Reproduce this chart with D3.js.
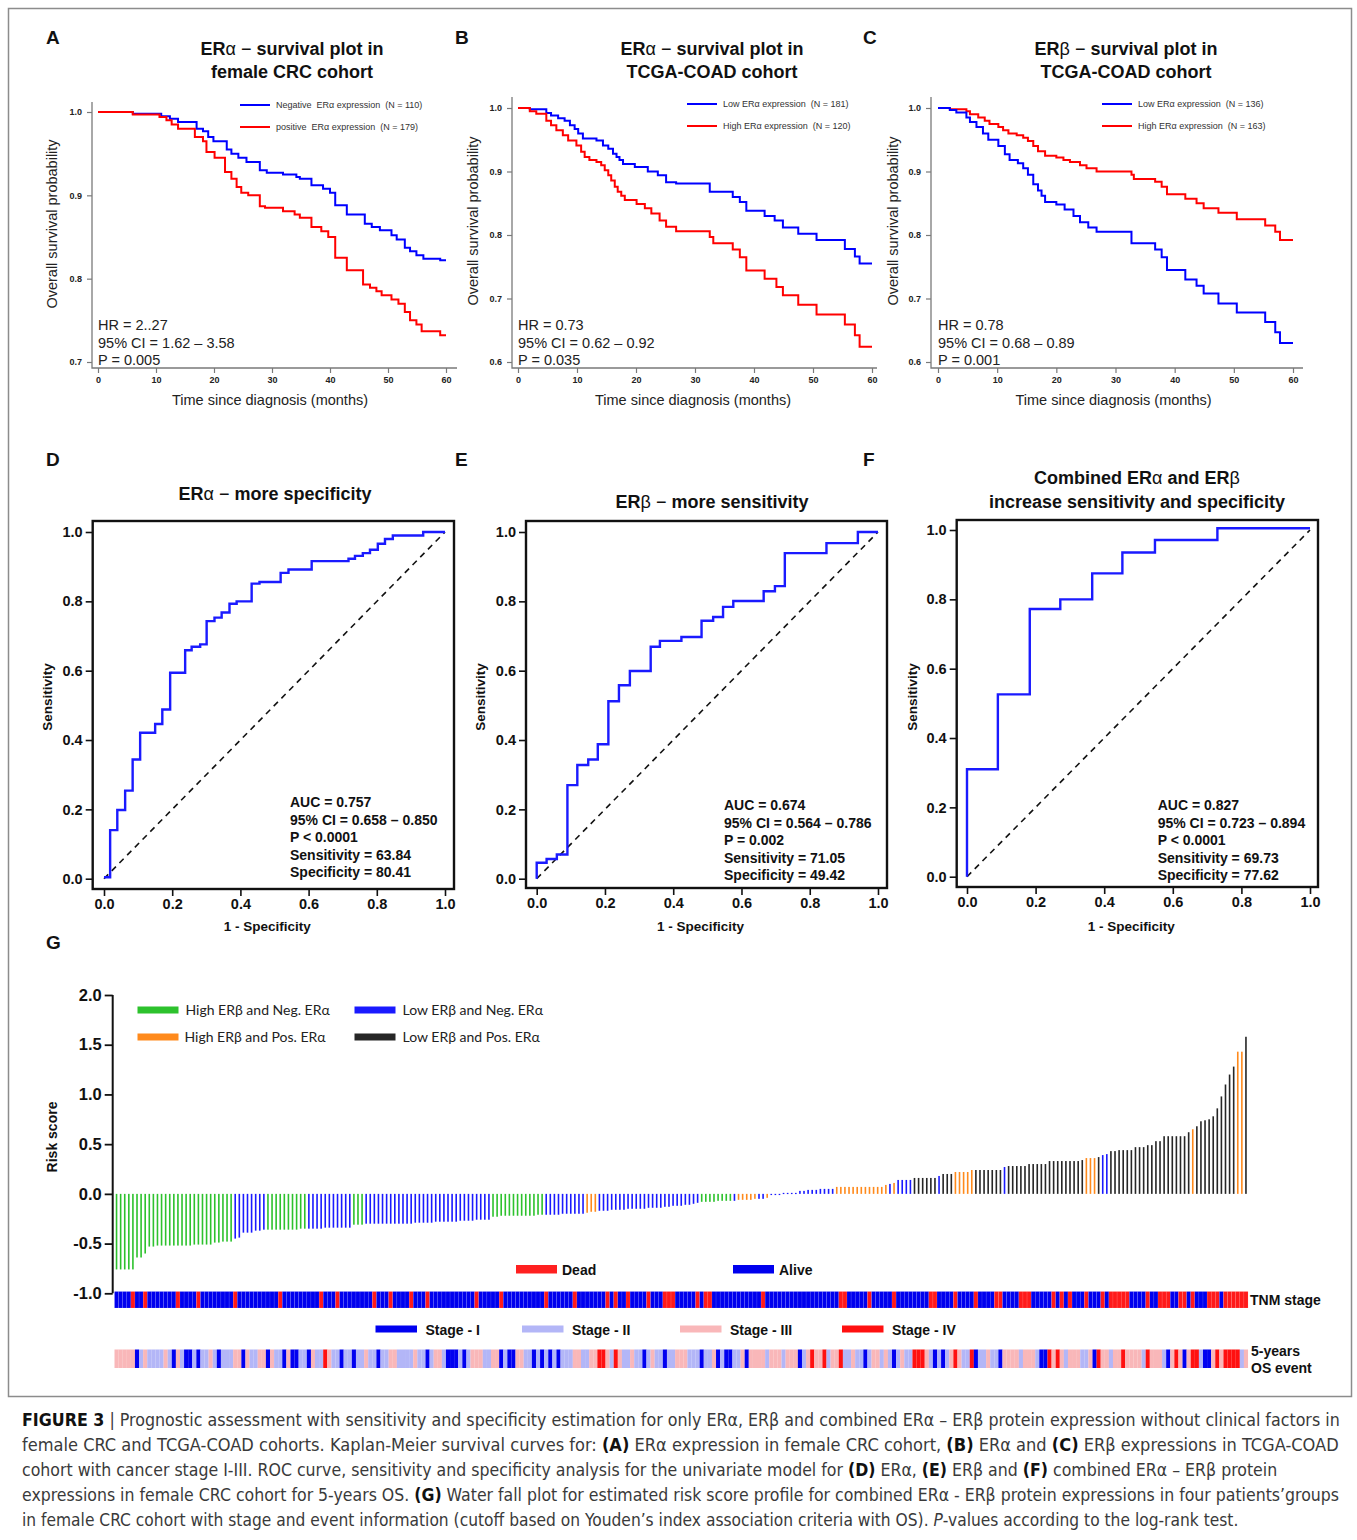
<!DOCTYPE html>
<html>
<head>
<meta charset="utf-8">
<script src="https://cdn.jsdelivr.net/npm/d3@7"></script>
<style>
body{margin:0;background:#fff}
svg{display:block;font-family:"Liberation Sans",Arial,sans-serif}
</style>
</head>
<body>
<div id="chart"></div>
<script>
// ---------- data ----------
const kmTimeTicks = [0,10,20,30,40,50,60];

// A: female CRC cohort, ERa
const kmA_neg = [[0,1],[6.0,0.998],[10.9,0.995],[12.4,0.992],[13.8,0.988],[17.0,0.98],[18.1,0.977],[19.0,0.97],[19.9,0.965],[22.2,0.955],[23.0,0.95],[24.2,0.945],[25.6,0.94],[27.9,0.93],[29.1,0.927],[31.9,0.925],[34.2,0.922],[34.8,0.92],[36.8,0.912],[38.8,0.908],[40.0,0.903],[40.9,0.888],[42.9,0.877],[46.0,0.866],[47.2,0.862],[48.6,0.858],[50.6,0.852],[51.5,0.847],[52.9,0.837],[53.8,0.833],[54.9,0.828],[56.1,0.824],[59.0,0.822],[60,0.822]];
const kmA_pos = [[0,1],[6.0,0.997],[10.6,0.994],[11.8,0.99],[12.7,0.985],[13.8,0.98],[16.7,0.97],[18.1,0.965],[18.7,0.952],[20.1,0.945],[21.9,0.928],[23.0,0.92],[23.9,0.91],[24.7,0.903],[25.9,0.9],[27.9,0.887],[28.8,0.885],[31.9,0.881],[33.9,0.877],[34.8,0.873],[36.8,0.862],[38.5,0.857],[39.7,0.85],[40.9,0.825],[42.9,0.81],[45.7,0.793],[46.9,0.789],[48.0,0.785],[48.9,0.78],[50.6,0.775],[51.8,0.77],[52.9,0.76],[53.8,0.75],[54.9,0.745],[55.8,0.737],[59.0,0.732],[60,0.732]];

// B: TCGA-COAD, ERa
const kmB_low = [[0,1],[2.0,0.998],[4.8,0.992],[5.6,0.988],[6.8,0.984],[7.9,0.98],[8.8,0.973],[9.6,0.967],[10.2,0.96],[11.0,0.952],[13.3,0.949],[14.4,0.941],[15.3,0.936],[16.1,0.928],[16.7,0.923],[17.2,0.918],[17.8,0.912],[19.8,0.907],[22.0,0.9],[23.7,0.894],[25.1,0.883],[26.8,0.881],[32.5,0.868],[36.4,0.86],[37.6,0.852],[38.7,0.838],[41.8,0.83],[43.5,0.823],[44.9,0.812],[47.5,0.802],[50.6,0.792],[55.4,0.778],[57.1,0.766],[57.9,0.755],[60,0.755]];
const kmB_high = [[0,1],[2.0,0.995],[3.1,0.991],[4.8,0.98],[5.6,0.973],[6.5,0.965],[7.6,0.957],[8.5,0.949],[9.9,0.941],[10.7,0.931],[11.3,0.923],[12.1,0.918],[13.3,0.915],[14.1,0.91],[14.7,0.902],[15.3,0.894],[15.8,0.886],[16.4,0.876],[16.9,0.868],[17.5,0.862],[18.1,0.855],[20.1,0.849],[21.5,0.842],[22.6,0.834],[24.0,0.823],[25.1,0.813],[26.8,0.806],[32.5,0.797],[33.1,0.787],[36.4,0.777],[37.6,0.765],[38.7,0.744],[41.8,0.731],[43.8,0.718],[44.9,0.705],[47.5,0.69],[50.6,0.675],[55.4,0.659],[57.1,0.642],[57.9,0.624],[60,0.624]];

// C: TCGA-COAD, ERb
const kmC_low = [[0,1],[2.0,0.997],[3.1,0.993],[4.8,0.985],[5.4,0.978],[6.5,0.97],[7.6,0.96],[8.5,0.95],[10.2,0.94],[11.3,0.927],[12.1,0.918],[13.5,0.913],[14.4,0.905],[15.2,0.895],[16.1,0.88],[16.9,0.87],[17.5,0.862],[18.1,0.852],[20.0,0.848],[21.4,0.84],[22.9,0.83],[24.0,0.82],[25.4,0.812],[26.8,0.805],[32.7,0.787],[36.7,0.777],[37.8,0.765],[38.7,0.745],[41.8,0.73],[43.7,0.72],[44.9,0.708],[47.4,0.692],[50.5,0.678],[55.3,0.663],[57.0,0.647],[57.8,0.63],[60,0.63]];
const kmC_high = [[0,1],[2.0,0.998],[4.8,0.995],[5.4,0.99],[6.8,0.985],[7.9,0.98],[8.7,0.975],[10.2,0.97],[11.0,0.965],[11.9,0.96],[13.3,0.957],[14.4,0.953],[15.2,0.948],[16.1,0.94],[16.9,0.932],[18.1,0.925],[20.0,0.922],[21.2,0.918],[22.3,0.915],[24.0,0.91],[25.1,0.905],[26.8,0.9],[32.7,0.895],[33.1,0.888],[36.7,0.884],[37.8,0.876],[38.7,0.864],[41.8,0.857],[43.7,0.85],[44.9,0.842],[47.4,0.835],[50.5,0.825],[55.3,0.815],[57.0,0.805],[57.8,0.792],[60,0.792]];

// ROC curves: [1 - specificity, sensitivity]
const rocTicks = [0,0.2,0.4,0.6,0.8,1.0];
const rocD = [[0,0.004],[0.018,0.14],[0.039,0.198],[0.062,0.254],[0.084,0.344],[0.106,0.421],[0.15,0.446],[0.171,0.488],[0.194,0.594],[0.238,0.659],[0.257,0.669],[0.282,0.676],[0.301,0.743],[0.324,0.753],[0.345,0.768],[0.368,0.793],[0.389,0.8],[0.433,0.851],[0.456,0.856],[0.518,0.882],[0.541,0.892],[0.609,0.916],[0.717,0.923],[0.736,0.931],[0.759,0.939],[0.78,0.949],[0.803,0.966],[0.824,0.98],[0.847,0.99],[0.936,1.0],[1.0,1.0]];
const rocE = [[0,0],[0,0.046],[0.029,0.057],[0.059,0.07],[0.09,0.27],[0.119,0.328],[0.151,0.344],[0.179,0.388],[0.21,0.512],[0.241,0.558],[0.273,0.599],[0.334,0.669],[0.361,0.686],[0.424,0.697],[0.483,0.744],[0.517,0.755],[0.546,0.784],[0.576,0.801],[0.665,0.829],[0.698,0.844],[0.727,0.939],[0.849,0.968],[0.941,1.0],[1.0,1.0]];
const rocF = [[0,0],[0,0.31],[0.09,0.526],[0.183,0.772],[0.272,0.8],[0.365,0.875],[0.453,0.935],[0.548,0.971],[0.73,1.005],[1.0,1.005]];
const statsD = ["AUC = 0.757","95% CI = 0.658 \u2013 0.850","P < 0.0001","Sensitivity = 63.84","Specificity = 80.41"];
const statsE = ["AUC = 0.674","95% CI = 0.564 \u2013 0.786","P = 0.002","Sensitivity = 71.05","Specificity = 49.42"];
const statsF = ["AUC = 0.827","95% CI = 0.723 \u2013 0.894","P < 0.0001","Sensitivity = 69.73","Specificity = 77.62"];

// G: waterfall risk scores (sorted) and group of each patient
const riskScores = [
 -0.76,-0.76,-0.76,-0.76,-0.76,-0.64,-0.64,-0.6,
 -0.53,-0.53,-0.52,-0.52,-0.52,-0.52,-0.52,-0.52,-0.52,-0.52,-0.52,-0.51,-0.51,-0.51,-0.51,-0.51,
 -0.49,-0.49,-0.48,-0.48,-0.48,
 -0.45,-0.44,-0.39,-0.39,-0.39,-0.37,-0.37,-0.36,
 -0.36,-0.36,-0.36,-0.36,-0.36,-0.36,-0.36,-0.36,-0.35,-0.35,
 -0.35,-0.35,-0.35,-0.35,-0.34,-0.34,-0.34,-0.34,-0.34,-0.34,-0.34,
 -0.31,-0.31,-0.31,
 -0.30,-0.30,-0.30,-0.30,-0.30,-0.30,-0.30,-0.30,-0.30,-0.30,-0.30,-0.30,-0.29,-0.29,
 -0.29,-0.29,-0.29,-0.28,-0.28,-0.28,-0.28,-0.28,-0.28,-0.27,-0.27,-0.27,-0.27,-0.26,-0.26,-0.26,-0.26,
 -0.23,-0.23,-0.22,-0.22,-0.22,-0.22,-0.22,-0.22,-0.22,-0.22,-0.22,-0.21,-0.21,
 -0.21,-0.21,-0.21,-0.21,-0.2,-0.2,-0.2,-0.2,-0.2,-0.2,
 -0.19,-0.18,-0.18,
 -0.17,-0.17,-0.17,-0.16,-0.16,-0.16,-0.16,-0.15,-0.15,-0.15,-0.15,-0.15,-0.14,-0.14,-0.14,-0.14,-0.13,-0.13,-0.12,-0.12,-0.12,-0.11,-0.11,-0.10,
 -0.09,
 -0.08,-0.08,-0.08,-0.08,-0.07,-0.07,-0.07,-0.07,
 -0.07,
 -0.06,-0.06,-0.06,-0.06,-0.05,
 -0.05,-0.05,
 -0.04,
 -0.01,-0.005,-0.005,
 0.01,0.01,0.01,0.01,
 0.03,0.03,0.04,0.04,0.04,
 0.05,0.05,0.05,0.05,
 0.07,0.07,0.07,0.07,0.07,0.07,0.07,0.07,0.07,0.07,0.07,0.07,
 0.09,0.10,0.11,
 0.14,0.14,0.14,0.14,
 0.16,0.16,0.16,0.16,0.16,0.16,
 0.18,
 0.2,0.2,0.2,
 0.22,0.22,0.22,0.22,0.24,
 0.24,0.24,0.24,0.24,0.24,0.24,0.24,
 0.27,
 0.28,0.28,0.28,0.28,0.28,
 0.3,0.3,0.3,0.3,0.3,
 0.33,0.33,0.33,0.33,0.33,0.33,0.33,0.33,
 0.34,
 0.36,0.36,0.36,
 0.37,
 0.39,0.4,
 0.43,0.43,
 0.44,0.44,0.44,0.44,
 0.47,0.47,0.47,
 0.49,0.49,
 0.53,0.53,
 0.58,0.58,0.58,0.58,0.58,0.58,
 0.62,
 0.65,
 0.68,0.73,0.74,0.75,0.78,
 0.86,0.98,1.1,1.2,1.28,
 1.43,1.43,
 1.58
];
const riskGroups = [
 "g","g","g","g","g","g","g","g",
 "g","g","g","g","g","g","g","g","g","g","g","g","g","g","g","g",
 "g","g","g","g","g",
 "b","b","b","b","b","b","b","b",
 "g","g","g","g","g","g","g","g","g","g",
 "b","b","b","b","b","b","b","b","b","b","b",
 "g","g","g",
 "b","b","b","b","b","b","b","b","b","b","b","b","b","b",
 "b","b","b","b","b","b","b","b","b","b","b","b","b","b","b","b","b",
 "g","g","g","g","g","g","g","g","g","g","g","g","g",
 "b","b","b","b","b","b","b","b","b","b",
 "o","o","o",
 "b","b","b","b","b","b","b","b","b","b","b","b","b","b","b","b","b","b","b","b","b","b","b","b",
 "b",
 "g","g","g","g","g","g","g","g",
 "b",
 "o","o","o","o","o",
 "b","b",
 "o",
 "b","b","b",
 "b","b","b","b",
 "b","b","b","b","b",
 "b","b","b","b",
 "o","o","o","o","o","o","o","o","o","o","o","o",
 "o","b","o",
 "b","b","b","b",
 "k","k","k","k","k","k",
 "b",
 "k","k","k",
 "o","o","o","o","o",
 "k","k","k","k","k","k","k",
 "b",
 "k","k","k","k","k",
 "k","k","k","k","k",
 "k","k","k","k","k","k","k","k",
 "k",
 "o","o","o",
 "k",
 "b","b",
 "k","k",
 "k","k","k","k",
 "k","k","k",
 "k","k",
 "k","k",
 "k","k","k","k","k","k",
 "k",
 "o",
 "k","k","k","k","k",
 "k","k","k","k","k",
 "o","o",
 "k"
];
// positions (patient order) with a 5-year event (dead); all others alive
const deadPatients = [4,7,15,20,29,40,50,54,63,67,72,76,88,94,105,112,120,122,125,130,134,135,136,142,144,145,158,177,178,184,190,199,200,205,210,215,216,221,222,223,229,231,233,237,241,243,244,245,246,247,252,255,256,257,260,261,263,267,268,269,271,272,273,274,275,276];
// TNM stage per patient (1..4)
const tnmStage = [
 3,3,3,3,3,1,2,3,2,2, 2,2,3,2,1,3,2,1,1,2, 1,2,2,3,2,1,2,2,2,3, 3,1,3,2,2,3,3,1,3,2,
 2,1,3,1,1,2,2,1,3,2, 2,4,3,2,2,1,2,2,1,2, 2,3,2,2,1,2,2,3,3,2, 2,2,2,3,2,2,1,2,3,3,
 2,1,1,1,2,1,2,3,3,3, 2,2,3,3,1,2,1,1,3,3, 2,2,1,2,1,2,1,2,1,2, 2,2,3,3,2,2,3,3,4,4,
 3,2,4,3,2,2,3,2,2,1, 2,3,2,2,1,2,2,3,3,3, 2,2,2,1,2,2,3,1,2,1, 1,2,2,3,1,3,3,3,3,2,
 3,3,3,2,3,3,3,1,2,3, 4,3,3,4,2,3,3,4,2,2, 3,2,2,1,2,3,3,2,3,2, 1,2,3,2,2,4,4,4,3,2,
 1,2,1,2,3,4,3,2,2,4, 1,2,2,3,2,2,1,3,3,3, 3,2,3,3,3,2,1,1,4,3, 4,3,2,3,3,3,2,2,3,1,
 4,3,3,2,3,3,4,3,3,3, 3,2,4,3,3,3,2,1,3,4, 3,1,3,4,4,2,1,1,3,4, 3,4,4,4,4,2,3
];
const groupLegend = [["g","High ER\u03b2 and Neg. ER\u03b1"],["b","Low ER\u03b2 and Neg. ER\u03b1"],["o","High ER\u03b2 and Pos. ER\u03b1"],["k","Low ER\u03b2 and Pos. ER\u03b1"]];
const riskTicks = [-1.0,-0.5,0.0,0.5,1.0,1.5,2.0];
const stageLabels = ["Stage - I","Stage - II","Stage - III","Stage - IV"];

// ---------- styling ----------
const groupColor = {g:"#2dc22d", b:"#1a1aff", o:"#ff8a1c", k:"#262626"};
const stageColor = {1:"#0000f0", 2:"#b3b6f7", 3:"#f9b7b9", 4:"#ff1010"};
const FONT = "Liberation Sans, Arial, sans-serif";
const fmt1 = v => d3.format(".1f")(v).replace("\u2212","-");

const svg = d3.select("#chart").append("svg").attr("width",1357).attr("height",1540);
svg.append("rect").attr("width",1357).attr("height",1540).attr("fill","#fff");
svg.append("rect").attr("x",8.5).attr("y",8.5).attr("width",1343).attr("height",1388)
  .attr("fill","none").attr("stroke","#8c8c8c").attr("stroke-width",1.5);

function rich(x, y, parts, size, anchor){
  const t = svg.append("text").attr("x",x).attr("y",y)
    .attr("text-anchor",anchor || "middle").style("font-size",size+"px").attr("fill","#111");
  parts.forEach(p => t.append("tspan").text(p[0]).style("font-weight", p[1] ? "bold" : "normal"));
  return t;
}

// panel letters
[["A",46,44],["B",455,44],["C",863,44],["D",46,466],["E",455,466],["F",863,466],["G",46,949]].forEach(d => {
  svg.append("text").attr("x",d[1]).attr("y",d[2]).text(d[0])
    .style("font-size","19px").style("font-weight","bold").attr("fill","#111");
});

// ---------- Kaplan-Meier panels ----------
function kmPanel(p){
  const x = d3.scaleLinear().domain([0,60]).range([p.x0, p.x60]);
  const y = d3.scaleLinear().domain([p.yMin,1]).range([p.yMinPx, p.y1Px]);
  const g = svg.append("g");
  g.append("path").attr("d",`M${p.left},${p.top}V${p.bottom}H${p.right}`)
    .attr("fill","none").attr("stroke","#7a7a7a").attr("stroke-width",1.3);
  g.append("g").attr("transform",`translate(0,${p.bottom})`)
    .call(d3.axisBottom(x).tickValues(kmTimeTicks).tickSize(5).tickPadding(4))
    .call(a => {
      a.attr("font-family",FONT);
      a.select(".domain").remove();
      a.selectAll("line").attr("stroke","#7a7a7a").attr("stroke-width",1.2);
      a.selectAll("text").style("font-size","9px").style("font-weight","bold").attr("fill","#222");
    });
  g.append("g").attr("transform",`translate(${p.left},0)`)
    .call(d3.axisLeft(y).tickValues(p.yTicks).tickFormat(d3.format(".1f")).tickSize(5).tickPadding(5))
    .call(a => {
      a.attr("font-family",FONT);
      a.select(".domain").remove();
      a.selectAll("line").attr("stroke","#7a7a7a").attr("stroke-width",1.2);
      a.selectAll("text").style("font-size","9px").style("font-weight","bold").attr("fill","#222");
    });
  const line = d3.line().x(d => x(d[0])).y(d => y(d[1])).curve(d3.curveStepAfter);
  p.curves.forEach(c => {
    g.append("path").datum(c.data).attr("d",line).attr("fill","none")
      .attr("stroke",c.color).attr("stroke-width",2);
  });
  // legend
  p.legend.forEach((l,i) => {
    const ly = p.legY + i*22;
    g.append("line").attr("x1",p.legX).attr("x2",p.legX+30).attr("y1",ly).attr("y2",ly)
      .attr("stroke",l[0]).attr("stroke-width",2);
    g.append("text").attr("x",p.legX+36).attr("y",ly+3).text(l[1])
      .style("font-size","9px").attr("fill","#333").style("white-space","pre").attr("xml:space","preserve");
  });
  // stats
  p.stats.forEach((s,i) => {
    g.append("text").attr("x",p.x0).attr("y",330+i*17.5).text(s)
      .style("font-size","14.5px").attr("fill","#222");
  });
  // axis titles
  g.append("text").attr("x",(p.x0+p.x60)/2 - 2).attr("y",405).attr("text-anchor","middle")
    .text("Time since diagnosis (months)").style("font-size","14.5px").attr("fill","#222");
  g.append("text").attr("transform",`translate(${p.ylabX},${p.ylabY}) rotate(-90)`).attr("text-anchor","middle")
    .text("Overall survival probability").style("font-size","14.5px").attr("fill","#222");
  // title
  rich(p.tx, 54.5, p.title1, 18);
  rich(p.tx, 77.5, p.title2, 18);
}

kmPanel({left:92,right:457,top:102,bottom:368,x0:98,x60:446,yMin:0.7,yMinPx:362,y1Px:112,
  yTicks:[0.7,0.8,0.9,1.0], ylabX:57, ylabY:224, tx:292,
  title1:[["ER",1],["\u03b1 \u2212 ",0],["survival  plot  in",1]], title2:[["female  CRC  cohort",1]],
  curves:[{data:kmA_neg,color:"#0000ff"},{data:kmA_pos,color:"#ff0000"}],
  legX:240, legY:105,
  legend:[["#0000ff","Negative  ER\u03b1 expression  (N = 110)"],["#ff0000","positive  ER\u03b1 expression  (N = 179)"]],
  stats:["HR = 2..27","95% CI = 1.62 \u2013 3.58","P = 0.005"]});

kmPanel({left:512,right:877,top:97,bottom:368,x0:518,x60:872,yMin:0.6,yMinPx:362,y1Px:108,
  yTicks:[0.6,0.7,0.8,0.9,1.0], ylabX:478, ylabY:221, tx:712,
  title1:[["ER",1],["\u03b1 \u2212 ",0],["survival  plot  in",1]], title2:[["TCGA-COAD  cohort",1]],
  curves:[{data:kmB_low,color:"#0000ff"},{data:kmB_high,color:"#ff0000"}],
  legX:687, legY:104,
  legend:[["#0000ff","Low ER\u03b1 expression  (N = 181)"],["#ff0000","High ER\u03b1 expression  (N = 120)"]],
  stats:["HR = 0.73","95% CI = 0.62 \u2013 0.92","P = 0.035"]});

kmPanel({left:931,right:1303,top:97,bottom:368,x0:938,x60:1293,yMin:0.6,yMinPx:362,y1Px:108,
  yTicks:[0.6,0.7,0.8,0.9,1.0], ylabX:898, ylabY:221, tx:1126,
  title1:[["ER",1],["\u03b2 \u2212 ",0],["survival  plot  in",1]], title2:[["TCGA-COAD  cohort",1]],
  curves:[{data:kmC_high,color:"#ff0000"},{data:kmC_low,color:"#0000ff"}],
  legX:1102, legY:104,
  legend:[["#0000ff","Low ER\u03b1 expression  (N = 136)"],["#ff0000","High ER\u03b1 expression  (N = 163)"]],
  stats:["HR = 0.78","95% CI = 0.68 \u2013 0.89","P = 0.001"]});

// ---------- ROC panels ----------
function rocPanel(p){
  const x = d3.scaleLinear().domain([0,1]).range([p.x0, p.x1]);
  const y = d3.scaleLinear().domain([0,1]).range([p.y0, p.y1]);
  const g = svg.append("g");
  const styleAxis = a => {
    a.attr("font-family",FONT);
    a.select(".domain").remove();
    a.selectAll("line").attr("stroke","#111").attr("stroke-width",1.6);
    a.selectAll("text").style("font-size","14.5px").style("font-weight","bold").attr("fill","#111");
  };
  g.append("g").attr("transform",`translate(0,${p.b})`)
    .call(d3.axisBottom(x).tickValues(rocTicks).tickFormat(d3.format(".1f")).tickSize(7).tickPadding(3)).call(styleAxis);
  g.append("g").attr("transform",`translate(${p.l},0)`)
    .call(d3.axisLeft(y).tickValues(rocTicks).tickFormat(d3.format(".1f")).tickSize(7).tickPadding(3)).call(styleAxis);
  g.append("rect").attr("x",p.l).attr("y",p.t).attr("width",p.r-p.l).attr("height",p.b-p.t)
    .attr("fill","none").attr("stroke","#111").attr("stroke-width",2.4);
  g.append("line").attr("x1",x(0)).attr("y1",y(0)).attr("x2",x(1)).attr("y2",y(1))
    .attr("stroke","#111").attr("stroke-width",1.6).attr("stroke-dasharray","6,5");
  const line = d3.line().x(d => x(d[0])).y(d => y(d[1])).curve(d3.curveStepAfter);
  g.append("path").datum(p.data).attr("d",line).attr("fill","none")
    .attr("stroke","#1a1aff").attr("stroke-width",2.4);
  p.stats.forEach((s,i) => {
    g.append("text").attr("x",p.sx).attr("y",p.sy+i*17.6).text(s)
      .style("font-size","14px").style("font-weight","bold").attr("fill","#111");
  });
  g.append("text").attr("x",(p.l+p.r)/2 - 6).attr("y",931).attr("text-anchor","middle")
    .text("1 - Specificity").style("font-size","13.5px").style("font-weight","bold").attr("fill","#111");
  g.append("text").attr("transform",`translate(${p.ylabX},697) rotate(-90)`).attr("text-anchor","middle")
    .text("Sensitivity").style("font-size","13.5px").style("font-weight","bold").attr("fill","#111");
  p.titles.forEach(tl => rich(p.tx, tl[0], tl[1], 18));
}

rocPanel({l:92.7,t:521,r:454,b:889,x0:104,x1:445,y0:878.7,y1:532,data:rocD,stats:statsD,sx:290,sy:807,
  ylabX:52, tx:275, titles:[[500,[["ER",1],["\u03b1 \u2212 ",0],["more specificity",1]]]]});
rocPanel({l:526,t:521,r:887,b:888,x0:536.7,x1:878,y0:878.7,y1:532,data:rocE,stats:statsE,sx:724,sy:810,
  ylabX:485, tx:712, titles:[[507.5,[["ER",1],["\u03b2 \u2212 ",0],["more sensitivity",1]]]]});
rocPanel({l:956.7,t:520,r:1318,b:887,x0:967,x1:1310,y0:876.7,y1:530,data:rocF,stats:statsF,sx:1157.7,sy:810,
  ylabX:917, tx:1137, titles:[[484,[["Combined ER",1],["\u03b1",0],[" and ER",1],["\u03b2",0]]],[507.5,[["increase sensitivity and specificity",1]]]]});

// ---------- waterfall panel ----------
const wfX = d3.scaleBand().domain(d3.range(riskScores.length)).range([114.5, 1248]);
const wfY = d3.scaleLinear().domain([-1,2]).range([1293.3, 995]);
const gW = svg.append("g");
gW.append("g").attr("transform","translate(112.7,0)")
  .call(d3.axisLeft(wfY).tickValues(riskTicks).tickFormat(fmt1).tickSize(8).tickPadding(3))
  .call(a => {
    a.attr("font-family",FONT);
    a.select(".domain").attr("stroke","#111").attr("stroke-width",2).attr("d","M0,995V1293.3");
    a.selectAll(".tick line").attr("stroke","#111").attr("stroke-width",1.8);
    a.selectAll("text").style("font-size","16.5px").style("font-weight","bold").attr("fill","#111");
  });
gW.append("text").attr("transform","translate(57,1137) rotate(-90)").attr("text-anchor","middle")
  .text("Risk score").style("font-size","14px").style("font-weight","bold").attr("fill","#111");

const bw = wfX.bandwidth();
gW.selectAll("rect.bar").data(riskScores).enter().append("rect").attr("class","bar")
  .attr("x",(d,i) => wfX(i) + bw/2 - 0.8).attr("width",1.6)
  .attr("y",d => Math.min(wfY(d), wfY(0)))
  .attr("height",d => Math.max(1.2, Math.abs(wfY(d) - wfY(0))))
  .attr("fill",(d,i) => groupColor[riskGroups[i]]);

// group legend
groupLegend.forEach((l,i) => {
  const lx = i % 2 === 0 ? 137.5 : 354.5;
  const ly = i < 2 ? 1010 : 1037;
  gW.append("rect").attr("x",lx).attr("y",ly-3.5).attr("width",41).attr("height",7).attr("fill",groupColor[l[0]]);
  gW.append("text").attr("x",lx+(i===2?47:48)).attr("y",ly+5).text(l[1])
    .style("font-family","Lato, 'Open Sans', sans-serif").style("font-size","14px").attr("fill","#222");
});

// event strip
const deadSet = new Set(deadPatients);
gW.selectAll("rect.ev").data(riskScores).enter().append("rect").attr("class","ev")
  .attr("x",(d,i) => wfX(i)).attr("width",bw + 0.05).attr("y",1291.5).attr("height",16.5)
  .attr("fill",(d,i) => deadSet.has(i) ? "#ff1a1a" : "#0000ee")
  .attr("stroke","rgba(255,255,255,0.28)").attr("stroke-width",0.4);
// stage strip
gW.selectAll("rect.st").data(tnmStage.slice(0, riskScores.length)).enter().append("rect").attr("class","st")
  .attr("x",(d,i) => wfX(i)).attr("width",bw + 0.05).attr("y",1349.5).attr("height",18.5)
  .attr("fill",d => stageColor[d]);

// event legend
[["#ff2020","Dead",516],["#0000ee","Alive",733]].forEach(l => {
  gW.append("rect").attr("x",l[2]).attr("y",1265).attr("width",41).attr("height",8.5).attr("fill",l[0]);
  gW.append("text").attr("x",l[2]+46).attr("y",1274.5).text(l[1])
    .style("font-size","14px").style("font-weight","bold").attr("fill","#111");
});
// stage legend
[375.5,522,680,842].forEach((lx,i) => {
  gW.append("rect").attr("x",lx).attr("y",1325.5).attr("width",41.5).attr("height",7).attr("fill",stageColor[i+1]);
  gW.append("text").attr("x",lx+50).attr("y",1334.5).text(stageLabels[i])
    .style("font-size","14px").style("font-weight","bold").attr("fill","#111");
});
gW.append("text").attr("x",1250).attr("y",1304.5).text("TNM stage")
  .style("font-size","14px").style("font-weight","bold").attr("fill","#111");
gW.append("text").attr("x",1251).attr("y",1356).text("5-years")
  .style("font-size","14px").style("font-weight","bold").attr("fill","#111");
gW.append("text").attr("x",1251).attr("y",1373).text("OS event")
  .style("font-size","14px").style("font-weight","bold").attr("fill","#111");

// ---------- caption ----------
const captionLines = [
 [["FIGURE 3","b"],[" | Prognostic assessment with sensitivity and specificity estimation for only ER\u03b1, ER\u03b2 and combined ER\u03b1 \u2013 ER\u03b2 protein expression without clinical factors in",""]],
 [["female CRC and TCGA-COAD cohorts. Kaplan-Meier survival curves for: ",""],["(A)","b"],[" ER\u03b1 expression in female CRC cohort, ",""],["(B)","b"],[" ER\u03b1 and ",""],["(C)","b"],[" ER\u03b2 expressions in TCGA-COAD",""]],
 [["cohort with cancer stage I-III. ROC curve, sensitivity and specificity analysis for the univariate model for ",""],["(D)","b"],[" ER\u03b1, ",""],["(E)","b"],[" ER\u03b2 and ",""],["(F)","b"],[" combined ER\u03b1 \u2013 ER\u03b2 protein",""]],
 [["expressions in female CRC cohort for 5-years OS. ",""],["(G)","b"],[" Water fall plot for estimated risk score profile for combined ER\u03b1 - ER\u03b2 protein expressions in four patients\u2019groups",""]],
 [["in female CRC cohort with stage and event information (cutoff based on Youden\u2019s index association criteria with OS). ",""],["P","i"],["-values according to the log-rank test.",""]]
];
const captionRight = [1340,1340,1278,1340,1239];
captionLines.forEach((parts,i) => {
  const t = svg.append("text").attr("x",0).attr("y",0)
    .style("font-family","'Liberation Sans Narrow','DejaVu Sans Condensed',sans-serif")
    .style("font-size","18px").attr("fill","#3a3a3a");
  parts.forEach(p => {
    const s = t.append("tspan").text(p[0]);
    if (p[1] === "b") s.style("font-weight","bold").attr("fill","#111");
    if (p[1] === "i") s.style("font-style","italic");
  });
  const w = t.node().getComputedTextLength();
  const k = (captionRight[i] - 22) / w;
  t.attr("transform",`translate(22,${1426 + i*25}) scale(${k},1)`);
});
</script>
</body>
</html>
